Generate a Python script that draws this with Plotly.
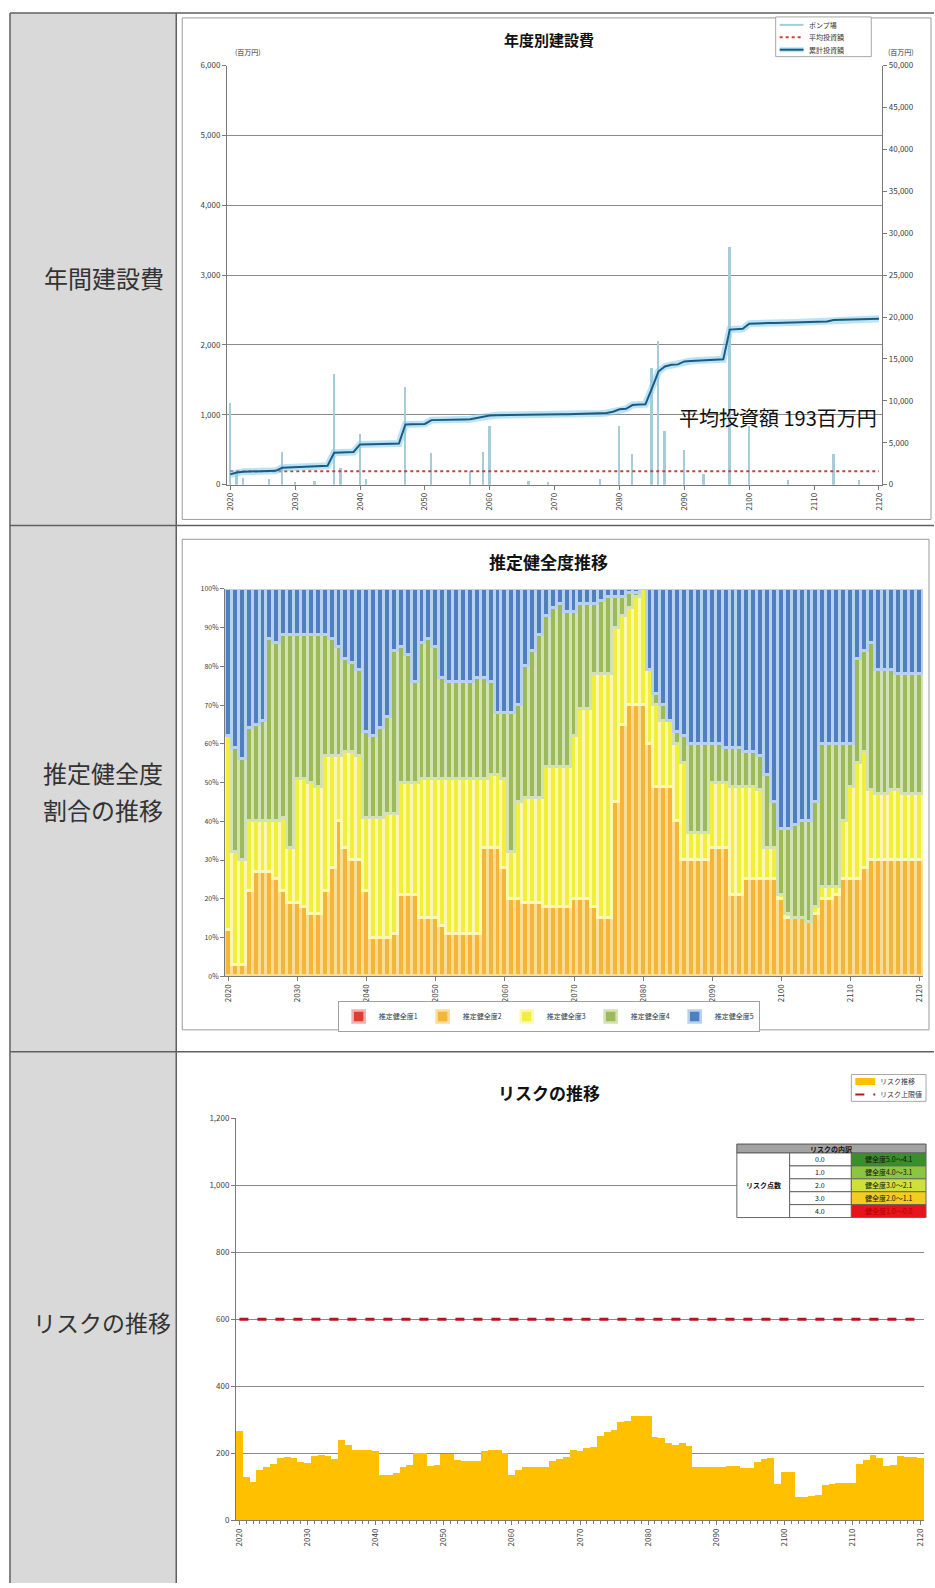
import plotly.graph_objects as go

W, H = 935, 1588
FONT = "Noto Sans CJK JP"
TICK_FONT = dict(family=FONT, size=8, color="#404040")

YEARS = list(range(2020, 2121))

# ---- 年度別建設費 ----
PUMP_YEARS = [2020, 2021, 2022, 2026, 2028, 2030, 2033, 2036, 2037, 2040, 2041,
              2047, 2051, 2057, 2059, 2060, 2066, 2069, 2077, 2080, 2082, 2085,
              2086, 2087, 2090, 2093, 2097, 2100, 2106, 2113, 2117]
PUMP_COST = [1180, 180, 100, 80, 480, 40, 55, 1590, 250, 730, 80,
             1410, 455, 200, 480, 840, 60, 40, 90, 840, 450, 1680,
             2060, 780, 500, 160, 3410, 850, 70, 450, 70]
CUMULATIVE = [
    1230, 1450, 1550, 1560, 1580, 1600, 1630, 1650, 2020, 2050,
    2080, 2100, 2130, 2160, 2200, 2250, 3810, 3850, 3870, 3900,
    4800, 4800, 4820, 4850, 4850, 4880, 4900, 7180, 7200, 7220,
    7250, 7700, 7700, 7720, 7750, 7750, 7780, 7800, 7950, 8100,
    8250, 8280, 8300, 8300, 8320, 8330, 8350, 8370, 8380, 8400,
    8400, 8400, 8410, 8420, 8430, 8440, 8450, 8500, 8550, 8700,
    9000, 9050, 9500, 9550, 9600, 11500, 13500, 14100, 14300, 14350,
    14700, 14750, 14800, 14850, 14900, 14900, 14950, 18500, 18550, 18600,
    19200, 19250, 19260, 19280, 19300, 19320, 19340, 19360, 19380, 19400,
    19420, 19450, 19480, 19650, 19680, 19700, 19720, 19740, 19760, 19780,
    19800]
AVG_COST = 193

# ---- 推定健全度推移 (upper edge of each band, %) ----
HEALTH_NAMES = ["推定健全度1", "推定健全度2", "推定健全度3", "推定健全度4", "推定健全度5"]
HEALTH_COLORS = ["#e03c31", "#f4b636", "#f1ee3c", "#9cba5a", "#4f7fbf"]
HEALTH_GAP_COLORS = ["#f4b0aa", "#fbdc98", "#fbf8b4", "#d2e2b2", "#b8d1ee"]
TOP_LEVEL1 = [0] * 101
TOP_LEVEL2 = [
    12, 3, 3, 22, 27, 27, 27, 25, 22, 19,
    19, 18, 16, 16, 22, 28, 40, 33, 30, 30,
    22, 10, 10, 10, 11, 21, 21, 21, 15, 15,
    15, 13, 11, 11, 11, 11, 11, 33, 33, 33,
    28, 20, 20, 19, 19, 19, 18, 18, 18, 18,
    20, 20, 20, 18, 15, 15, 45, 65, 70, 70,
    70, 60, 49, 49, 49, 40, 30, 30, 30, 30,
    33, 33, 33, 21, 21, 25, 25, 25, 25, 25,
    20, 15, 15, 15, 14, 16, 20, 20, 21, 25,
    25, 25, 28, 30, 30, 30, 30, 30, 30, 30,
    30]
TOP_LEVEL3 = [
    62, 32, 30, 40, 40, 40, 40, 40, 41, 33,
    51, 51, 50, 49, 57, 57, 57, 58, 58, 57,
    41, 41, 41, 42, 42, 50, 50, 50, 51, 51,
    51, 51, 51, 51, 51, 51, 51, 51, 52, 52,
    51, 32, 45, 46, 46, 46, 54, 54, 54, 54,
    62, 69, 69, 78, 78, 78, 90, 93, 95, 98,
    100, 79, 70, 66, 66, 60, 55, 37, 37, 37,
    50, 50, 50, 49, 49, 49, 49, 48, 33, 33,
    21, 16, 15, 15, 14, 18, 23, 23, 23, 40,
    49, 55, 58, 48, 47, 47, 48, 48, 47, 47,
    47]
TOP_LEVEL4 = [
    62, 59, 56, 64, 65, 66, 87, 86, 88, 88,
    88, 88, 88, 88, 88, 87, 85, 82, 81, 79,
    63, 62, 64, 67, 84, 85, 83, 76, 86, 87,
    85, 77, 76, 76, 76, 76, 77, 77, 76, 68,
    68, 68, 70, 80, 84, 88, 93, 95, 96, 94,
    94, 96, 96, 96, 97, 98, 98, 98, 99, 99,
    100, 79, 73, 70, 66, 63, 62, 60, 60, 60,
    60, 60, 59, 59, 59, 58, 58, 57, 52, 45,
    38, 38, 39, 40, 40, 45, 60, 60, 60, 60,
    60, 82, 84, 86, 79, 79, 79, 78, 78, 78,
    78]
TOP_LEVEL5 = [100] * 101

# ---- リスクの推移 ----
RISK = [
    267, 129, 114, 150, 158, 168, 185, 188, 185, 175,
    170, 193, 195, 193, 183, 238, 225, 208, 208, 208,
    205, 134, 134, 140, 158, 165, 200, 200, 163, 165,
    198, 198, 180, 178, 178, 178, 205, 208, 208, 200,
    134, 150, 158, 158, 160, 160, 178, 183, 190, 208,
    205, 215, 218, 250, 262, 270, 292, 295, 310, 310,
    310, 248, 245, 230, 225, 230, 220, 160, 158, 158,
    160, 160, 162, 162, 155, 155, 175, 183, 185, 109,
    143, 143, 69, 69, 72, 75, 104, 108, 110, 110,
    112, 168, 180, 195, 185, 163, 165, 193, 190, 190,
    185]
RISK_LIMIT = 600

RISK_SCORES = ["0.0", "1.0", "2.0", "3.0", "4.0"]
RISK_BANDS = ["健全度5.0～4.1", "健全度4.0～3.1", "健全度3.0～2.1", "健全度2.0～1.1", "健全度1.0～0.0"]
RISK_BAND_COLORS = ["#3b8e2c", "#8cc640", "#cfe03a", "#f2cc1e", "#e8141c"]

PUMP_COLOR = "#a6ccd9"
AVG_COLOR = "#c8403a"
CUM_COLOR = "#1d5a80"
CUM_GLOW = "rgba(130,205,238,0.55)"
RISK_COLOR = "#ffc000"
LIMIT_COLOR = "#b8141c"


def px(x):
    return x / W


def py(y):
    return 1 - y / H


pump_by_year = dict(zip(PUMP_YEARS, PUMP_COST))
pump_series = [pump_by_year.get(y, 0) for y in YEARS]

tops = [TOP_LEVEL1, TOP_LEVEL2, TOP_LEVEL3, TOP_LEVEL4, TOP_LEVEL5]
shares = [TOP_LEVEL1] + [[t - b for t, b in zip(tops[i], tops[i - 1])] for i in range(1, 5)]

fig = go.Figure()

# top chart
fig.add_trace(go.Bar(x=YEARS, y=pump_series, name="ポンプ場", width=0.3, showlegend=False,
                     marker=dict(color=PUMP_COLOR, line=dict(width=0)),
                     xaxis="x", yaxis="y"))
fig.add_trace(go.Scatter(x=YEARS, y=[AVG_COST] * len(YEARS), name="平均投資額", mode="lines",
                         showlegend=False, line=dict(color=AVG_COLOR, dash="dot", width=2),
                         xaxis="x", yaxis="y"))
fig.add_trace(go.Scatter(x=YEARS, y=CUMULATIVE, mode="lines", showlegend=False, hoverinfo="skip",
                         line=dict(color=CUM_GLOW, width=7), xaxis="x", yaxis="y2"))
fig.add_trace(go.Scatter(x=YEARS, y=CUMULATIVE, name="累計投資額", mode="lines", showlegend=False,
                         line=dict(color=CUM_COLOR, width=2), xaxis="x", yaxis="y2"))

# middle chart
for name, vals, col, gap in zip(HEALTH_NAMES, shares, HEALTH_COLORS, HEALTH_GAP_COLORS):
    fig.add_trace(go.Bar(x=YEARS, y=vals, name=name, width=1,
                         marker=dict(color=col, line=dict(color=gap, width=2.6)),
                         xaxis="x2", yaxis="y3", legend="legend2"))

# bottom chart
fig.add_trace(go.Bar(x=YEARS, y=RISK, name="リスク推移", width=1, showlegend=False,
                     marker=dict(color=RISK_COLOR, line=dict(width=0)),
                     xaxis="x3", yaxis="y4"))
fig.add_trace(go.Scatter(x=YEARS, y=[RISK_LIMIT] * len(YEARS), name="リスク上限値", mode="lines",
                         showlegend=False, line=dict(color=LIMIT_COLOR, dash="dash", width=3),
                         xaxis="x3", yaxis="y4"))

axis_common = dict(showline=True, linecolor="#7a7a7a", linewidth=1, ticks="outside",
                   ticklen=4, tickcolor="#7a7a7a", tickfont=TICK_FONT, zeroline=False)
x_common = dict(axis_common, range=[2019.5, 2120.5], tickmode="linear", tick0=2020, dtick=10,
                tickangle=-90, showgrid=False)

shapes = []
annotations = []


def rect(x0, y0, x1, y1, fill="rgba(0,0,0,0)", line=None, width=1, layer="below"):
    shapes.append(dict(type="rect", xref="paper", yref="paper",
                       x0=px(x0), x1=px(x1), y0=py(y1), y1=py(y0),
                       fillcolor=fill, layer=layer,
                       line=dict(color=line or "rgba(0,0,0,0)", width=width if line else 0)))


def seg(x0, y0, x1, y1, color, width, layer="below", dash="solid"):
    shapes.append(dict(type="line", xref="paper", yref="paper",
                       x0=px(x0), x1=px(x1), y0=py(y0), y1=py(y1), layer=layer,
                       line=dict(color=color, width=width, dash=dash)))


def text(x, y, s, size, color="#222", xanchor="center", bold=False):
    annotations.append(dict(xref="paper", yref="paper", x=px(x), y=py(y),
                            text=f"<b>{s}</b>" if bold else s,
                            showarrow=False, xanchor=xanchor, yanchor="middle",
                            font=dict(family=FONT, size=size, color=color)))


# page grid: label column and rows
rect(7, 7, 174, H, fill="#d9d9d9")
seg(7, 7, W, 7, "#606060", 1.5)
seg(7, 7, 7, H, "#606060", 1.5)
seg(174, 7, 174, H, "#606060", 1.5)
seg(7, 523, W, 523, "#606060", 1.5)
seg(7, 1053, W, 1053, "#606060", 1.5)

# chart frames
rect(180, 12, 932, 517, line="#9a9a9a")
rect(180, 537, 930, 1031, line="#9a9a9a")

text(101, 273, "年間建設費", 24, "#333")
text(100, 772, "推定健全度", 24, "#333")
text(100, 809, "割合の推移", 24, "#333")
text(99, 1325, "リスクの推移", 23, "#333")

text(548, 34, "年度別建設費", 15, "#111", bold=True)
text(246, 46, "(百万円)", 7, "#333")
text(902, 46, "(百万円)", 7, "#333")
text(880, 414, f"平均投資額 {AVG_COST}百万円", 20, "#111", xanchor="right")

text(548, 559, "推定健全度推移", 17, "#111", bold=True)
text(548, 1094, "リスクの推移", 17, "#111", bold=True)

# legend of the construction-cost chart
lg_font = 7
rect(776, 11, 872, 51, fill="white", line="#a8a8a8", layer="above")
for i, (label, color, wd, dash) in enumerate([
        ("ポンプ場", PUMP_COLOR, 2, "solid"),
        ("平均投資額", AVG_COLOR, 2, "dot"),
        ("累計投資額", CUM_COLOR, 2, "solid")]):
    yy = 19 + i * 12.5
    if label == "累計投資額":
        seg(780, yy, 804, yy, CUM_GLOW, 5, layer="above")
    seg(780, yy, 804, yy, color, wd, layer="above", dash=dash)
    text(807, yy, label, lg_font, "#333", xanchor="left")

# legend of the risk chart
rect(852, 1076, 927, 1103, fill="white", line="#a8a8a8", layer="above")
seg(856, 1083, 876, 1083, RISK_COLOR, 7, layer="above")
text(879, 1083, "リスク推移", lg_font, "#333", xanchor="left")
seg(856, 1096, 876, 1096, LIMIT_COLOR, 2, layer="above", dash="dash")
text(879, 1096, "リスク上限値", lg_font, "#333", xanchor="left")

# risk breakdown table
tx0, tx1, tx2, tx3 = 737, 790, 852, 927
ty0, hh, rh = 1146, 9, 13
rect(tx0, ty0, tx3, ty0 + hh, fill="#a3a3a3", line="#555", layer="above")
text((tx0 + tx3) / 2, ty0 + hh / 2, "リスクの内訳", 7, "#111", bold=True)
rect(tx0, ty0 + hh, tx1, ty0 + hh + 5 * rh, fill="white", line="#666", layer="above")
text((tx0 + tx1) / 2, ty0 + hh + 2.5 * rh, "リスク点数", 7, "#111", bold=True)
for i, (score, band, bc) in enumerate(zip(RISK_SCORES, RISK_BANDS, RISK_BAND_COLORS)):
    r0 = ty0 + hh + i * rh
    rect(tx1, r0, tx2, r0 + rh, fill="white", line="#666", layer="above")
    rect(tx2, r0, tx3, r0 + rh, fill=bc, line="#666", layer="above")
    text((tx1 + tx2) / 2, r0 + rh / 2, score, 7, "#111")
    text((tx2 + tx3) / 2, r0 + rh / 2, band, 7, "#b00000" if i == 4 else "#111")

legend_font = dict(family=FONT, size=7, color="#333")

fig.update_layout(
    width=W, height=H, autosize=False,
    margin=dict(l=0, r=0, t=0, b=0),
    paper_bgcolor="white", plot_bgcolor="white",
    barmode="stack", bargap=0,
    font=dict(family=FONT),
    shapes=shapes, annotations=annotations,
    xaxis=dict(x_common, domain=[px(225), px(883)], anchor="y"),
    yaxis=dict(axis_common, domain=[py(482), py(60)], anchor="x", range=[0, 6000], dtick=1000,
               tickformat=",", showgrid=True, gridcolor="#8a8a8a", gridwidth=1),
    yaxis2=dict(axis_common, overlaying="y", side="right", anchor="x", range=[0, 50000],
                dtick=5000, tickformat=",", showgrid=False),
    xaxis2=dict(x_common, domain=[px(223), px(924)], anchor="y3"),
    yaxis3=dict(axis_common, domain=[py(977), py(587)], anchor="x2", range=[0, 100], dtick=10,
                ticksuffix="%", showgrid=True, gridcolor="#8a8a8a", tickfont=dict(TICK_FONT, size=7)),
    xaxis3=dict(x_common, domain=[px(234), px(925)], anchor="y4",
                minor=dict(dtick=1, ticks="outside", ticklen=3, tickcolor="#7a7a7a")),
    yaxis4=dict(axis_common, domain=[py(1525), py(1120)], anchor="x3", range=[0, 1200], dtick=200,
                tickformat=",", showgrid=True, gridcolor="#8a8a8a"),
    legend2=dict(orientation="h", x=px(548), xanchor="center", y=py(1002), yanchor="top",
                 traceorder="normal", bgcolor="white", bordercolor="#a0a0a0", borderwidth=1,
                 font=legend_font),
)

fig.write_html("out.html")
